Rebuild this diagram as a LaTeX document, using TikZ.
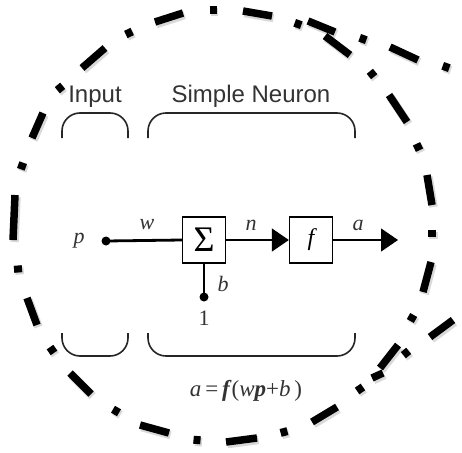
\documentclass[tikz,border=0pt]{standalone}
\usepackage{fontspec}
\setmainfont{Liberation Serif}
\newfontfamily\labsans{Liberation Sans}
\usetikzlibrary{arrows.meta}
\begin{document}
\begin{tikzpicture}[x=1pt,y=-1pt,
  ringdash/.style={line width=7.5pt, line cap=butt, black},
  ringdot/.style={line width=8pt, line cap=butt, black},
  ringshadow/.style={line width=8.5pt, line cap=butt, black!15},
  bracket/.style={line width=1.6pt, black!85, rounded corners=18pt},
  unit/.style={draw, line width=1.3pt, minimum width=43pt, minimum height=46pt, inner sep=0pt},
  lbl/.style={font=\fontsize{22}{24}\selectfont\itshape, text=black!80, inner sep=0pt},
  head/.style={font=\labsans\fontsize{24}{26}\selectfont, text=black!80, inner sep=0pt, anchor=base},
  junction/.style={circle, fill=black, inner sep=0pt, minimum size=9pt},
  thinline/.style={line width=1.3pt},
  thickline/.style={line width=2.8pt},
  tip/.style={-{Triangle[length=17pt,width=23pt]}}
]
\useasboundingbox (0,0) rectangle (462,452);
\fill[white] (0,0) rectangle (462,452);

% --- dash-dot loop: shadows
\foreach \xa/\ya/\xb/\yb in {155/22/183/13, 243/11/272/16, 308/21/335/32, 325/36/350/55,
  390/47/418/60, 389/95/407/122, 427/175/432/205, 431/262/423/292, 453/320/430/337,
  398/345/380/368, 383/373/372/378, 337/407/312/422, 257/438/226/442, 169/433/140/425,
  91/394/70/373, 37/325/27/298, 13/240/15/195, 32/138/43/113, 82/68/105/48}
  {\draw[ringshadow] ({\xa+1.5},{\ya+2}) -- ({\xb+1.5},{\yb+2});}
\foreach \x/\y/\dx/\dy in {213/10/3.5/0, 298/24/3.3/1.2, 363/39/3.3/1.2, 446/67/3.3/1.2,
  372/74/2.2/2.7, 418/147/1.5/3.2, 432/233/0/3.5, 412/318/-1.7/3, 406/353/-2.7/2.2,
  360/389/-2.9/2, 284/432/-3.4/0.9, 197/440/-3.5/-0.3, 116/411/-3/-1.75, 52/350/-2/-2.9,
  18/269/-0.3/-3.5, 22/166/1.2/-3.3, 60/88/2.7/-2.2, 129/33/3.2/-1.5}
  {\draw[ringshadow] ({\x-(\dx)+1.5},{\y-(\dy)+2}) -- ({\x+(\dx)+1.5},{\y+(\dy)+2});}

% --- dash-dot loop
\foreach \xa/\ya/\xb/\yb in {155/22/183/13, 243/11/272/16, 308/21/335/32, 325/36/350/55,
  390/47/418/60, 389/95/407/122, 427/175/432/205, 431/262/423/292, 453/320/430/337,
  398/345/380/368, 383/373/372/378, 337/407/312/422, 257/438/226/442, 169/433/140/425,
  91/394/70/373, 37/325/27/298, 13/240/15/195, 32/138/43/113, 82/68/105/48}
  {\draw[ringdash] (\xa,\ya) -- (\xb,\yb);}
\foreach \x/\y/\dx/\dy in {213/10/3.5/0, 298/24/3.3/1.2, 363/39/3.3/1.2, 446/67/3.3/1.2,
  372/74/2.2/2.7, 418/147/1.5/3.2, 432/233/0/3.5, 412/318/-1.7/3, 406/353/-2.7/2.2,
  360/389/-2.9/2, 284/432/-3.4/0.9, 197/440/-3.5/-0.3, 116/411/-3/-1.75, 52/350/-2/-2.9,
  18/269/-0.3/-3.5, 22/166/1.2/-3.3, 60/88/2.7/-2.2, 129/33/3.2/-1.5}
  {\draw[ringdot] ({\x-(\dx)},{\y-(\dy)}) -- ({\x+(\dx)},{\y+(\dy)});}

% --- headings
\node[head] (inputlbl) at (95,102) {Input};
\node[head] (neuronlbl) at (251,102) {Simple Neuron};

% --- brackets
\draw[bracket] (62,138) -- (62,113) -- (128,113) -- (128,138);
\draw[bracket] (148,138) -- (148,113) -- (355,113) -- (355,138);
\draw[bracket] (62,333) -- (62,356) -- (128,356) -- (128,333);
\draw[bracket] (148,333) -- (148,356) -- (355,356) -- (355,333);

% --- neuron
\node[lbl] (p) at (79,241) {p};
\node[junction] (pdot) at (106,241) {};
\node[unit] (sum) at (204,240) {\fontsize{36}{36}\selectfont Σ};
\node[unit] (f) at (311,240) {\fontsize{24}{26}\selectfont\itshape f};
\coordinate (out) at (398,240);
\node[junction] (bdot) at (204,297) {};
\node[lbl] (one) at (204,318) {\upshape 1};

\draw[thickline] (pdot.center) -- (sum.west);
\draw[thinline, tip] (sum.east) -- (f.west);
\draw[thinline, tip] (f.east) -- (out);
\draw[thinline] (sum.south) -- (bdot.center);

\node[lbl] (w) at (147,225) {w};
\node[lbl] (n) at (251,225) {n};
\node[lbl] (a) at (358,225) {a};
\node[lbl] (b) at (223,284) {b};

\node[lbl, font=\fontsize{23}{25}\selectfont] (eq) at (246,391)
  {\textit{a}\,=\,\textbf{\textit{f}}(\textit{w}\textbf{\textit{p}}+\textit{b}\,)};
\end{tikzpicture}
\end{document}
